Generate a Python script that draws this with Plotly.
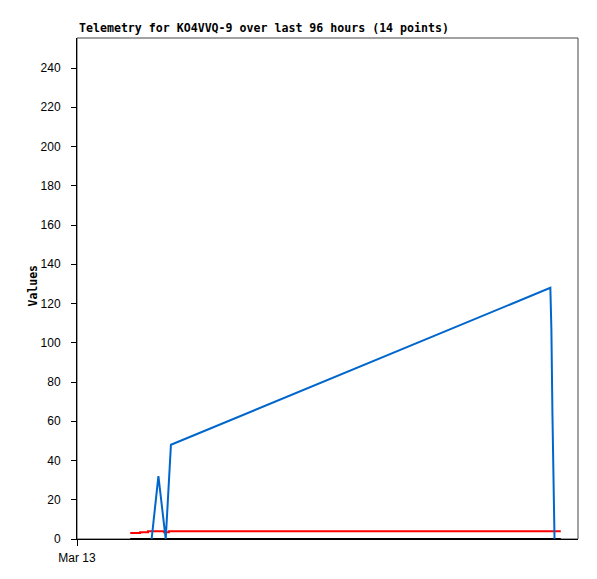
import plotly.graph_objects as go

# Hours since Mar 13 00:00
blue_x = [14.3, 15.6, 17.0, 18.0, 90.7, 90.9, 91.1, 91.3, 91.5]
blue_y = [0, 32, 0, 48, 128, 107, 64, 21, 0]

red_x = [10.2, 12.1, 13.6, 16.7, 17.6, 92.7]
red_y = [3.0, 3.5, 4.0, 3.5, 4.0, 4.0]

black_x = [10.2, 92.7]
black_y = [0, 0]

y_ticks = list(range(0, 241, 20))
x_tick_vals = [0]
x_tick_text = ["Mar 13"]

title_text = "Telemetry for KO4VVQ-9 over last 96 hours (14 points)"

fig = go.Figure()
fig.add_trace(go.Scatter(x=black_x, y=black_y, mode="lines",
                         line=dict(color="#000000", width=2), showlegend=False))
fig.add_trace(go.Scatter(x=red_x, y=red_y, mode="lines", line_shape="hv",
                         line=dict(color="#ff0000", width=2), showlegend=False))
fig.add_trace(go.Scatter(x=blue_x, y=blue_y, mode="lines",
                         line=dict(color="#0066cc", width=2), showlegend=False))

fig.update_layout(
    width=589, height=571,
    margin=dict(l=69, r=19, t=30, b=40),
    paper_bgcolor="white", plot_bgcolor="white",
    font=dict(family="Liberation Sans, Arial, sans-serif", size=12, color="#000"),
    xaxis=dict(range=[0, 96], tickvals=x_tick_vals, ticktext=x_tick_text,
               showgrid=False, zeroline=False, showline=True, linecolor="#000",
               linewidth=1, ticks="outside", ticklen=6, tickcolor="#000",
               ticklabelstandoff=2),
    yaxis=dict(range=[0, 255.3], tickvals=y_ticks,
               showgrid=False, zeroline=False, showline=True, linecolor="#000",
               linewidth=1, ticks="outside", ticklen=5, tickcolor="#000",
               ticklabelstandoff=8),
    shapes=[dict(type="rect", xref="paper", yref="paper", x0=0, x1=1, y0=0, y1=1,
                 line=dict(color="#444", width=1), layer="below")],
    annotations=[
        dict(text=title_text, xref="paper", yref="paper", x=0, y=1,
             xanchor="left", yanchor="bottom", showarrow=False, yshift=1,
             font=dict(family="DejaVu Sans Mono, monospace", size=11.6, color="#000",
                       weight="bold")),
        dict(text="Values", xref="paper", yref="paper", x=0, y=0.5,
             xanchor="center", yanchor="middle", showarrow=False, xshift=-45,
             yshift=3, textangle=-90,
             font=dict(family="DejaVu Sans Mono, monospace", size=11.5, color="#000",
                       weight="bold")),
    ],
)

fig.write_html("out.html")
